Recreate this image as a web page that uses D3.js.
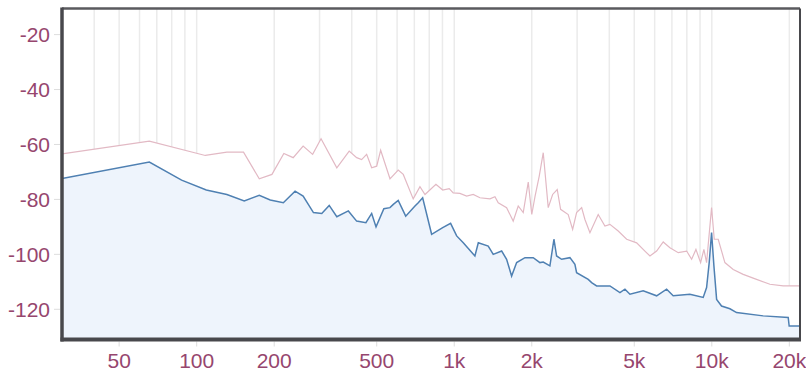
<!DOCTYPE html>
<html>
<head>
<meta charset="utf-8">
<script src="https://cdn.jsdelivr.net/npm/d3@7"></script>
<style>
  body { margin: 0; background: #fff; }
  .tickText { font-family: "Liberation Sans", Arial, sans-serif; font-size: 21px; fill: #96466e; }
</style>
</head>
<body>
<div id="spectrum"></div>
<script>
// peak hold (pink) and current spectrum (blue), freq in Hz, level in dB
var peakFreq = [30, 65.5, 108, 131, 152, 175, 196, 218, 237, 259, 282, 304, 350, 391, 418, 437, 457, 478, 500, 518,
  563, 606, 634, 693, 736, 770, 849, 902, 956, 991, 1052, 1117, 1185, 1258, 1376, 1439, 1482, 1597, 1694, 1772,
  1853, 1938, 2000, 2060, 2138, 2216, 2317, 2410, 2511, 2588, 2770, 2882, 2986, 3124, 3217, 3364, 3622, 3846, 4022,
  4332, 4671, 5108, 5499, 5752, 6106, 6476, 6877, 7408, 7985, 8350, 8677, 9048, 9318, 9545, 9980, 10220, 10590,
  11240, 12110, 13240, 14920, 16810, 18930, 22000];
var peakDb = [-63.4, -58.8, -64.0, -62.8, -62.8, -72.5, -70.9, -63.3, -64.8, -60.6, -63.6, -57.9, -68.5, -62.4, -64.8, -65.5, -63.6, -68.5, -67.9, -62.1,
  -72.5, -69.3, -70.9, -79.8, -75.4, -78.2, -74.5, -76.6, -76.1, -77.6, -77.8, -78.8, -78.2, -79.4, -79.8, -79.0, -81.2, -83.0, -87.9, -82.4,
  -84.8, -73.7, -85.5, -78.8, -71.5, -63.0, -83.0, -78.2, -76.4, -83.6, -85.5, -90.9, -84.8, -83.0, -87.3, -92.1, -85.5, -89.7, -89.1,
  -91.5, -94.5, -95.8, -98.8, -100.6, -98.8, -95.5, -97.6, -99.4, -98.8, -101.8, -98.2, -103.0, -98.2, -103.0, -83.0, -94.5, -94.5,
  -103.0, -105.5, -107.3, -109.1, -110.9, -111.5, -111.5];

var liveFreq = [30, 65.5, 87.4, 109, 131, 153, 175, 193, 217, 241, 259, 284, 306, 327, 350, 388, 418, 454, 478, 497,
  533, 563, 580, 606, 648, 704, 725, 754, 817, 902, 968, 1022, 1084, 1203, 1240, 1355, 1417, 1528, 1597, 1670,
  1747, 1882, 2026, 2151, 2216, 2352, 2438, 2497, 2612, 2813, 2941, 2986, 3313, 3415, 3571, 4022, 4399, 4600, 4810,
  5416, 6106, 6677, 7081, 8222, 9260, 9545, 9770, 9980, 10190, 10440, 10910, 11760, 12480, 15830, 19800, 19970, 22000];
var liveDb = [-72.4, -66.4, -73.0, -76.6, -78.2, -80.6, -78.5, -80.2, -81.2, -77.0, -78.8, -84.8, -85.1, -82.2, -86.3, -84.2, -87.9, -88.5, -85.1, -90.0,
  -83.4, -83.0, -81.8, -80.4, -86.1, -82.4, -81.2, -79.4, -92.7, -90.3, -88.7, -93.3, -95.8, -100.6, -95.8, -97.0, -100.0, -98.8, -101.8, -107.9,
  -103.0, -101.2, -101.2, -103.0, -102.8, -104.2, -94.5, -100.6, -101.8, -101.2, -103.6, -106.7, -109.1, -110.3, -111.5, -111.5, -113.9, -112.7, -114.5,
  -113.3, -115.1, -112.7, -115.1, -114.5, -115.7, -112.1, -103.0, -92.1, -104.2, -116.4, -118.8, -119.8, -121.2, -122.4, -123.0, -126.1, -126.1];

// axis ticks
var yTicks = [-20, -40, -60, -80, -100, -120];
var xTicks = [50, 100, 200, 500, 1000, 2000, 5000, 10000, 20000];
var xTickLabels = ["50", "100", "200", "500", "1k", "2k", "5k", "10k", "20k"];
var gridFreq = [40, 50, 60, 70, 80, 90, 100, 200, 300, 400, 500, 600, 700, 800, 900, 1000,
  2000, 3000, 4000, 5000, 6000, 7000, 8000, 9000, 10000, 20000];

var peakData = peakFreq.map(function(f, i) { return { f: f, db: peakDb[i] }; });
var liveData = liveFreq.map(function(f, i) { return { f: f, db: liveDb[i] }; });

// plot box in page pixels
var W = 806, H = 379;
var pLeft = 62, pRight = 800, pTop = 8.5, pBottom = 339.5;

var svg = d3.select("#spectrum")
  .append("svg")
    .attr("width", W)
    .attr("height", H);

var x = d3.scaleLog()
    .domain([30, 22000])
    .range([pLeft, pRight]);

var y = d3.scaleLinear()
    .domain([-131, -10.5])
    .range([pBottom, pTop]);

svg.append("defs").append("clipPath")
    .attr("id", "clip")
  .append("rect")
    .attr("x", pLeft)
    .attr("y", pTop)
    .attr("width", pRight - pLeft)
    .attr("height", pBottom - pTop);

var plot = svg.append("g").attr("clip-path", "url(#clip)");

// vertical grid
plot.selectAll("line.grid")
  .data(gridFreq)
  .enter()
  .append("line")
    .attr("class", "grid")
    .attr("x1", function(d) { return x(d); })
    .attr("x2", function(d) { return x(d); })
    .attr("y1", pTop)
    .attr("y2", pBottom)
    .style("stroke", "#ebebeb")
    .style("stroke-width", 1.5);

var area = d3.area()
    .x(function(d) { return x(d.f); })
    .y0(pBottom)
    .y1(function(d) { return y(d.db); });

var line = d3.line()
    .x(function(d) { return x(d.f); })
    .y(function(d) { return y(d.db); });

// peak area hides the grid below it
plot.append("path")
    .datum(peakData)
    .attr("d", area)
    .style("fill", "#ffffff");

plot.append("path")
    .datum(liveData)
    .attr("d", area)
    .style("fill", "#eef4fc");

plot.append("path")
    .datum(peakData)
    .attr("d", line)
    .style("fill", "none")
    .style("stroke", "#e2b9c4")
    .style("stroke-width", 1.2);

plot.append("path")
    .datum(liveData)
    .attr("d", line)
    .style("fill", "none")
    .style("stroke", "#4f80b2")
    .style("stroke-width", 1.5);

// frame
svg.append("line")
    .attr("x1", pLeft).attr("x2", pRight)
    .attr("y1", pTop).attr("y2", pTop)
    .style("stroke", "#5a5a5e").style("stroke-width", 2.5);
svg.append("line")
    .attr("x1", pRight).attr("x2", pRight)
    .attr("y1", pTop).attr("y2", pBottom)
    .style("stroke", "#48484c").style("stroke-width", 2);

// y axis
var yAxis = svg.append("g");
yAxis.selectAll("line")
  .data(yTicks)
  .enter()
  .append("line")
    .attr("x1", pLeft - 8).attr("x2", pLeft - 2)
    .attr("y1", function(d) { return y(d); })
    .attr("y2", function(d) { return y(d); })
    .style("stroke", "#dddddd");
yAxis.selectAll("text")
  .data(yTicks)
  .enter()
  .append("text")
    .attr("class", "tickText")
    .attr("x", pLeft - 12)
    .attr("y", function(d) { return y(d); })
    .attr("dy", "0.36em")
    .attr("text-anchor", "end")
    .text(function(d) { return d; });

// x axis
var xAxis = svg.append("g");
xAxis.selectAll("line")
  .data(xTicks)
  .enter()
  .append("line")
    .attr("x1", function(d) { return x(d); })
    .attr("x2", function(d) { return x(d); })
    .attr("y1", pBottom + 2).attr("y2", pBottom + 7)
    .style("stroke", "#dddddd");
xAxis.selectAll("text")
  .data(xTicks)
  .enter()
  .append("text")
    .attr("class", "tickText")
    .attr("x", function(d) { return x(d); })
    .attr("y", pBottom + 28.5)
    .attr("text-anchor", "middle")
    .text(function(d, i) { return xTickLabels[i]; });

// heavy axis lines on left and bottom
svg.append("line")
    .attr("x1", pLeft).attr("x2", pLeft)
    .attr("y1", pTop - 1).attr("y2", pBottom + 2)
    .style("stroke", "#48484c").style("stroke-width", 3.5);
svg.append("line")
    .attr("x1", pLeft - 1.5).attr("x2", pRight + 1)
    .attr("y1", pBottom).attr("y2", pBottom)
    .style("stroke", "#48484c").style("stroke-width", 4);
</script>
</body>
</html>
